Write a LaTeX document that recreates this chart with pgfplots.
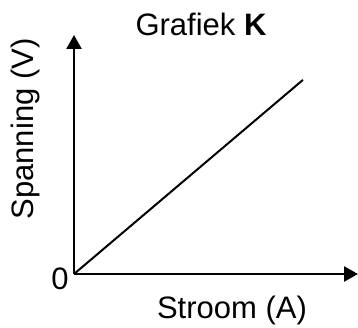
\documentclass[border=0pt]{standalone}
\usepackage{pgfplots}
\pgfplotsset{compat=1.18}
\usepackage{fontspec}
\setmainfont{Liberation Sans}
\usetikzlibrary{arrows.meta}
\begin{document}
\begin{tikzpicture}[x=1bp,y=1bp]
\path[use as bounding box] (0,0) rectangle (358,328);
\begin{axis}[
  at={(74bp,54bp)}, anchor=origin,
  scale only axis, width=284bp, height=239bp,
  xmin=0, xmax=1, ymin=0, ymax=1,
  axis lines=left,
  axis line style={line width=2.4bp, -{Triangle[length=14bp,width=15bp]}},
  xtick=\empty, ytick=\empty,
  clip=false,
]
\addplot[black, line width=2bp] coordinates {(0,0) (0.806,0.812)};
\end{axis}
\node[anchor=base, font=\fontsize{31bp}{36bp}\selectfont] at (201,293) {Grafiek \textbf{K}};
\node[anchor=base, font=\fontsize{31bp}{36bp}\selectfont] at (232,10) {Stroom (A)};
\node[anchor=base, font=\fontsize{31bp}{36bp}\selectfont] at (60,39) {0};
\node[anchor=base, rotate=90, font=\fontsize{31bp}{36bp}\selectfont] at (33,199) {Spanning (V)};
\end{tikzpicture}
\end{document}
